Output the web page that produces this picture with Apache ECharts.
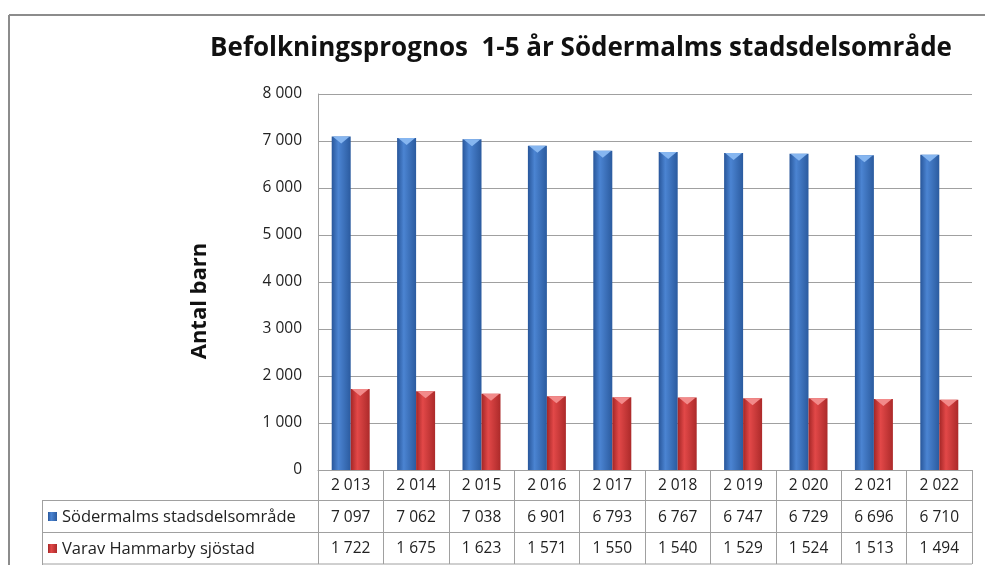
<!DOCTYPE html>
<html>
<head>
<meta charset="UTF-8">
<title>Befolkningsprognos</title>
<style>
  html, body { margin: 0; padding: 0; background: #fff; }
  #chart { width: 985px; height: 565px; }
</style>
</head>
<body>
<div id="chart"></div>
<script src="https://cdn.jsdelivr.net/npm/echarts@6/dist/echarts.min.js"></script>
<script>
var years = [2013, 2014, 2015, 2016, 2017, 2018, 2019, 2020, 2021, 2022];
var sodermalm = [7097, 7062, 7038, 6901, 6793, 6767, 6747, 6729, 6696, 6710];
var hammarby = [1722, 1675, 1623, 1571, 1550, 1540, 1529, 1524, 1513, 1494];
var seriesNames = ['Södermalms stadsdelsområde', 'Varav Hammarby sjöstad'];

// tusental med mellanslag: 7097 -> "7 097"
function fmt(n) {
    return String(n).replace(/\B(?=(\d{3})+(?!\d))/g, ' ');
}

var font = '"Open Sans", "Noto Sans", sans-serif';
var gridColor = '#a0a0a0';

var blueGrad = new echarts.graphic.LinearGradient(0, 0, 1, 0, [
    {offset: 0, color: '#28569a'},
    {offset: 0.35, color: '#4b84d2'},
    {offset: 1, color: '#2b5b9f'}
]);
var redGrad = new echarts.graphic.LinearGradient(0, 0, 1, 0, [
    {offset: 0, color: '#a32626'},
    {offset: 0.35, color: '#e24848'},
    {offset: 1, color: '#ac2a2a'}
]);

// liten ljus "topp" på varje stapel
function cap(data, dx, color) {
    return {
        type: 'pictorialBar',
        data: data,
        symbol: 'triangle',
        symbolRotate: 180,
        symbolSize: [17, 7],
        symbolPosition: 'end',
        symbolOffset: [dx, 0],
        itemStyle: {color: color},
        z: 5,
        silent: true
    };
}

var myChart = echarts.init(document.getElementById('chart'));

var option = {
    backgroundColor: '#fff',
    animation: false,
    title: {
        text: 'Befolkningsprognos  1-5 år Södermalms stadsdelsområde',
        left: 576,
        top: 31,
        textAlign: 'center',
        textStyle: {fontFamily: font, fontWeight: 'bold', fontSize: 26, color: '#111'}
    },
    grid: {left: 318, right: 13, top: 94, bottom: 95},
    xAxis: {
        type: 'category',
        data: years,
        axisLine: {lineStyle: {color: gridColor}},
        axisTick: {show: true, length: 94, lineStyle: {color: gridColor}},
        axisLabel: {
            margin: 0,
            interval: 0,
            formatter: function (v, i) {
                return '{a|' + fmt(v) + '}\n{a|' + fmt(sodermalm[i]) + '}\n{a|' + fmt(hammarby[i]) + '}';
            },
            rich: {a: {fontFamily: font, fontSize: 15.5, color: '#222', lineHeight: 31.5}}
        }
    },
    yAxis: {
        type: 'value',
        min: 0,
        max: 8000,
        interval: 1000,
        axisLine: {show: true, lineStyle: {color: gridColor}},
        axisTick: {show: false},
        axisLabel: {
            margin: 16,
            fontFamily: font,
            fontSize: 15.5,
            color: '#222',
            formatter: function (v) { return fmt(v); }
        },
        splitLine: {lineStyle: {color: gridColor}}
    },
    series: [
        {
            name: seriesNames[0],
            type: 'bar',
            data: sodermalm,
            barWidth: 19,
            barGap: '0%',
            itemStyle: {color: blueGrad}
        },
        {
            name: seriesNames[1],
            type: 'bar',
            data: hammarby,
            barWidth: 19,
            itemStyle: {color: redGrad}
        },
        cap(sodermalm, -9.5, '#86b6f0'),
        cap(hammarby, 9.5, '#f28a8a')
    ],
    graphic: [
        // ram
        {type: 'line', shape: {x1: 9, y1: 15, x2: 985, y2: 15}, style: {stroke: '#8c8c8c', lineWidth: 2}},
        {type: 'line', shape: {x1: 9, y1: 15, x2: 9, y2: 565}, style: {stroke: '#8c8c8c', lineWidth: 2}},
        // y-axelns titel
        {type: 'text', x: 200, y: 301, rotation: Math.PI / 2,
            style: {text: 'Antal barn', fontFamily: font, fontWeight: 'bold', fontSize: 22, fill: '#111',
                align: 'center', verticalAlign: 'middle'}},
        // tabell, vänsterkolumn
        {type: 'line', shape: {x1: 42, y1: 500.5, x2: 972, y2: 500.5}, style: {stroke: gridColor, lineWidth: 1}},
        {type: 'line', shape: {x1: 42, y1: 532.5, x2: 972, y2: 532.5}, style: {stroke: gridColor, lineWidth: 1}},
        {type: 'line', shape: {x1: 42, y1: 564, x2: 972, y2: 564}, style: {stroke: gridColor, lineWidth: 1}},
        {type: 'line', shape: {x1: 42.5, y1: 500, x2: 42.5, y2: 565}, style: {stroke: gridColor, lineWidth: 1}},
        {type: 'rect', shape: {x: 48, y: 512, width: 9, height: 9}, style: {fill: blueGrad}},
        {type: 'rect', shape: {x: 48, y: 544, width: 9, height: 9}, style: {fill: redGrad}},
        {type: 'text', x: 62, y: 517, style: {text: seriesNames[0], fontFamily: font, fontSize: 16.5, fill: '#222', verticalAlign: 'middle'}},
        {type: 'text', x: 62, y: 549, style: {text: seriesNames[1], fontFamily: font, fontSize: 16.5, fill: '#222', verticalAlign: 'middle'}}
    ]
};
myChart.setOption(option);
</script>
</body>
</html>
